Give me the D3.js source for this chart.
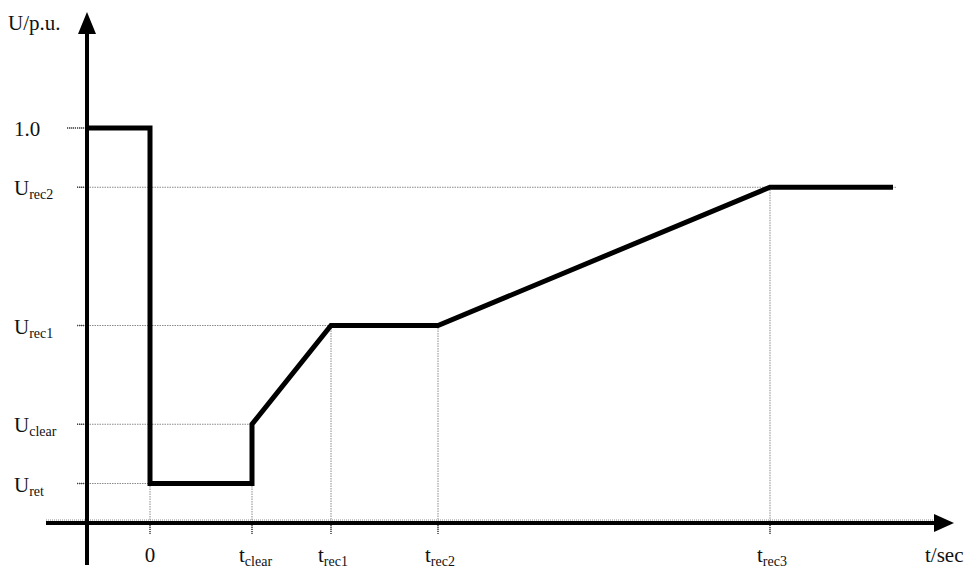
<!DOCTYPE html>
<html>
<head>
<meta charset="utf-8">
<script src="https://cdn.jsdelivr.net/npm/d3@7/dist/d3.min.js"></script>
<style>
  html, body { margin: 0; padding: 0; background: #fff; }
  svg { display: block; }
  text { font-family: "Liberation Serif", "DejaVu Serif", serif; fill: #111; }
</style>
</head>
<body>
<svg id="chart" width="965" height="571"></svg>
<script>
// Voltage-time profile (per-unit voltage vs. time, time in arbitrary units)
const curveT = [-0.62, 0, 0, 1.02, 1.02, 1.81, 2.88, 6.2, 7.43];
const curveU = [1.0, 1.0, 0.1, 0.1, 0.25, 0.5, 0.5, 0.85, 0.85];

// Named voltage levels shown on the vertical axis
const levelNames = ["1.0", "U|rec2", "U|rec1", "U|clear", "U|ret"];
const levelValues = [1.0, 0.85, 0.5, 0.25, 0.1];
// Time at which each level is reached (end of its dotted guide)
const levelReachT = [-0.62, 6.2, 1.81, 1.02, 0];

// Named instants shown on the horizontal axis
const timeNames = ["0", "t|clear", "t|rec1", "t|rec2", "t|rec3"];
const timeValues = [0, 1.02, 1.81, 2.88, 6.2];
// Voltage at each instant (top of its dotted guide)
const timeReachU = [0.1, 0.1, 0.5, 0.5, 0.85];

const svg = d3.select("#chart");
const x = d3.scaleLinear().domain([0, 1]).range([150, 250]);
const y = d3.scaleLinear().domain([0, 1]).range([523, 128]);

const axisX = x(-0.63);
const axisY = y(0);
const guide = "#8a8a8a";

// Label with optional subscript: "main|sub"
function label(g, str, px, py, anchor) {
  const [main, sub] = str.split("|");
  const t = g.append("text").attr("x", px).attr("y", py)
    .attr("text-anchor", anchor).attr("font-size", 21);
  t.append("tspan").text(main);
  if (sub) t.append("tspan").attr("font-size", 14).attr("dy", 4).text(sub);
  return t;
}

// Dotted guides along the axis line
svg.append("line")
  .attr("x1", 46).attr("x2", 940).attr("y1", axisY - 3).attr("y2", axisY - 3)
  .attr("stroke", guide).attr("stroke-width", 1).attr("stroke-dasharray", "1,1");

// Horizontal level guides
levelValues.forEach((v, i) => {
  const left = i === 0 ? 67 : 77;
  const right = i === 1 ? x(7.47) : x(levelReachT[i]);
  svg.append("line")
    .attr("x1", left).attr("x2", right)
    .attr("y1", y(v)).attr("y2", y(v))
    .attr("stroke", guide).attr("stroke-width", 1).attr("stroke-dasharray", "1.5,1");
  svg.append("line")
    .attr("x1", left).attr("x2", axisX)
    .attr("y1", y(v)).attr("y2", y(v))
    .attr("stroke", "#444").attr("stroke-width", 1.5).attr("stroke-dasharray", "1,1");
  label(svg, levelNames[i], 14, y(v) + 8, "start");
});

// Vertical time guides
timeValues.forEach((t, i) => {
  svg.append("line")
    .attr("x1", x(t)).attr("x2", x(t))
    .attr("y1", y(timeReachU[i])).attr("y2", axisY + 10)
    .attr("stroke", guide).attr("stroke-width", 1).attr("stroke-dasharray", "1.5,1");
  svg.append("line")
    .attr("x1", x(t)).attr("x2", x(t))
    .attr("y1", axisY).attr("y2", axisY + 12)
    .attr("stroke", "#444").attr("stroke-width", 1.5).attr("stroke-dasharray", "1,1");
  const sub = timeNames[i].includes("|");
  label(svg, timeNames[i], sub ? x(t) - 13 : x(t), 562, sub ? "start" : "middle");
});

// Axes
svg.append("line")
  .attr("x1", axisX).attr("x2", axisX).attr("y1", 565).attr("y2", 30)
  .attr("stroke", "#000").attr("stroke-width", 4);
svg.append("path")
  .attr("d", `M${axisX},12 L${axisX - 9},34 L${axisX + 9},34 Z`)
  .attr("fill", "#000");
svg.append("line")
  .attr("x1", 46).attr("x2", 937).attr("y1", axisY).attr("y2", axisY)
  .attr("stroke", "#000").attr("stroke-width", 4);
svg.append("path")
  .attr("d", `M954,${axisY} L934,${axisY - 9} L934,${axisY + 9} Z`)
  .attr("fill", "#000");

label(svg, "U/p.u.", 8, 30, "start");
label(svg, "t/sec", 925, 562, "start");

// Voltage profile
const pts = curveT.map((t, i) => [t, curveU[i]]);
svg.append("path")
  .datum(pts)
  .attr("d", d3.line().x(d => x(d[0])).y(d => y(d[1])))
  .attr("fill", "none").attr("stroke", "#000")
  .attr("stroke-width", 5).attr("stroke-linejoin", "miter");
</script>
</body>
</html>
